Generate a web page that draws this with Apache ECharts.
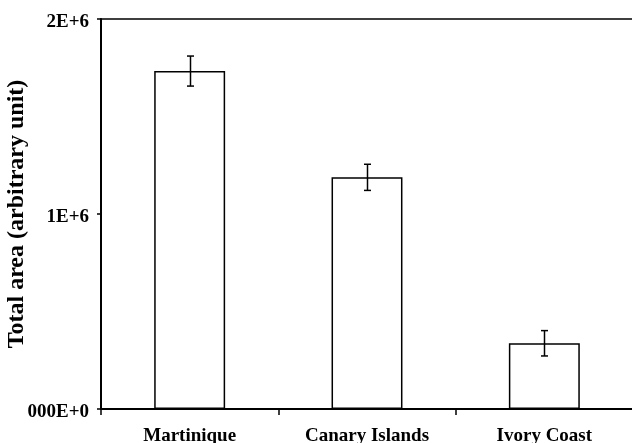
<!DOCTYPE html>
<html>
<head>
<meta charset="utf-8">
<script src="https://cdn.jsdelivr.net/npm/echarts@6/dist/echarts.min.js"></script>
<style>
  html, body { margin: 0; padding: 0; background: #fff; }
  #chart { width: 632px; height: 443px; }
</style>
</head>
<body>
<div id="chart"></div>
<script>
// Total area per origin, with standard error
var categories = ['Martinique', 'Canary Islands', 'Ivory Coast'];
var totalArea = [1733000, 1188000, 337000];
var errors = [77000, 67000, 65000];
var yTicks = [0, 1000000, 2000000];
var yTickLabels = ['000E+0', '1E+6', '2E+6'];

var FONT = '"Liberation Serif", "Times New Roman", serif';

var chart = echarts.init(document.getElementById('chart'), null, { renderer: 'canvas' });

var errorData = categories.map(function (c, i) {
  return [i, totalArea[i] - errors[i], totalArea[i] + errors[i]];
});

chart.setOption({
  animation: false,
  backgroundColor: '#fff',
  grid: { left: 101, top: 19, width: 532, height: 390, show: false, containLabel: false, outerBoundsMode: 'none' },
  xAxis: [
    {
      type: 'category',
      data: categories,
      boundaryGap: true,
      axisLine: { lineStyle: { color: '#000', width: 2 } },
      axisTick: { show: true, length: 6, inside: false, alignWithLabel: false, lineStyle: { color: '#000', width: 1.5 } },
      axisLabel: { color: '#000', fontFamily: FONT, fontWeight: 'bold', fontSize: 19, margin: 18, interval: 0 },
      splitLine: { show: false }
    },
    {
      // top frame line of the plot area
      type: 'category',
      data: categories,
      position: 'top',
      axisLine: { lineStyle: { color: '#000', width: 1.5 } },
      axisTick: { show: false },
      axisLabel: { show: false },
      splitLine: { show: false }
    }
  ],
  yAxis: {
    type: 'value',
    min: 0, max: 2000000, interval: 1000000,
    name: 'Total area (arbitrary unit)',
    nameLocation: 'middle',
    nameGap: 72,
    nameMoveOverlap: false,
    nameTextStyle: { color: '#000', fontFamily: FONT, fontWeight: 'bold', fontSize: 24 },
    axisLine: { show: true, lineStyle: { color: '#000', width: 2 } },
    axisTick: { show: true, length: 4, lineStyle: { color: '#000', width: 1.5 } },
    axisLabel: {
      color: '#000', fontFamily: FONT, fontWeight: 'bold', fontSize: 19, margin: 12,
      formatter: function (v) {
        var i = yTicks.indexOf(v);
        return i >= 0 ? '{t|' + yTickLabels[i] + '}' : '';
      },
      rich: {
        // nudge the tick labels slightly below their tick marks
        t: { color: '#000', fontFamily: FONT, fontWeight: 'bold', fontSize: 19, padding: [7, 0, 0, 0] }
      }
    },
    splitLine: { show: false }
  },
  series: [
    {
      type: 'bar',
      data: totalArea,
      barWidth: '40%',
      itemStyle: { color: '#fff', borderColor: '#000', borderWidth: 1.5 },
      z: 2
    },
    {
      type: 'custom',
      data: errorData,
      z: 3,
      renderItem: function (params, api) {
        var x = api.value(0);
        var lo = api.coord([x, api.value(1)]);
        var hi = api.coord([x, api.value(2)]);
        var cx = Math.round(lo[0]) + 0.5;
        var half = 3.5;
        var style = { stroke: '#000', lineWidth: 1.5 };
        return {
          type: 'group',
          children: [
            { type: 'line', shape: { x1: cx, y1: hi[1], x2: cx, y2: lo[1] }, style: style },
            { type: 'line', shape: { x1: cx - half, y1: hi[1], x2: cx + half, y2: hi[1] }, style: style },
            { type: 'line', shape: { x1: cx - half, y1: lo[1], x2: cx + half, y2: lo[1] }, style: style }
          ]
        };
      }
    }
  ]
});
</script>
</body>
</html>
